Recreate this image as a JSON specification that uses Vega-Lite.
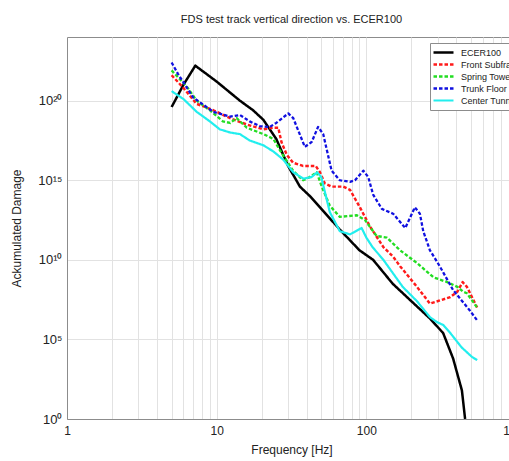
{
  "$schema": "https://vega.github.io/schema/vega-lite/v6.json",
  "autosize": {"type": "none"},
  "width": 449,
  "height": 382,
  "padding": {"left": 67, "top": 37, "right": 0, "bottom": 42},
  "background": "white",
  "title": {"text": "FDS test track vertical direction vs. ECER100", "fontSize": 11, "fontWeight": "normal", "color": "#222", "offset": 12, "font": "Liberation Sans"},
  "datasets": {
    "curves": [
      {"f": 5, "d": 3.98e19, "s": "ECER100"},
      {"f": 6, "d": 1e21, "s": "ECER100"},
      {"f": 7.2, "d": 1.58e22, "s": "ECER100"},
      {"f": 10, "d": 1.58e21, "s": "ECER100"},
      {"f": 14.3, "d": 1e20, "s": "ECER100"},
      {"f": 17.5, "d": 2.51e19, "s": "ECER100"},
      {"f": 20.5, "d": 6.31e18, "s": "ECER100"},
      {"f": 25, "d": 3.98e17, "s": "ECER100"},
      {"f": 30, "d": 7.94e15, "s": "ECER100"},
      {"f": 36, "d": 3.98e14, "s": "ECER100"},
      {"f": 42, "d": 1e14, "s": "ECER100"},
      {"f": 49, "d": 2e13, "s": "ECER100"},
      {"f": 66.5, "d": 7.94e11, "s": "ECER100"},
      {"f": 90, "d": 3.98e10, "s": "ECER100"},
      {"f": 111, "d": 1e10, "s": "ECER100"},
      {"f": 150, "d": 3.16e8, "s": "ECER100"},
      {"f": 200, "d": 2.51e7, "s": "ECER100"},
      {"f": 267, "d": 2e6, "s": "ECER100"},
      {"f": 326, "d": 2.51e5, "s": "ECER100"},
      {"f": 380, "d": 6.31e3, "s": "ECER100"},
      {"f": 435, "d": 63.1, "s": "ECER100"},
      {"f": 457, "d": 1, "s": "ECER100"},

      {"f": 5, "d": 3.98e21, "s": "Front Subframe"},
      {"f": 6, "d": 6.31e20, "s": "Front Subframe"},
      {"f": 7.35, "d": 6.31e19, "s": "Front Subframe"},
      {"f": 9.5, "d": 2.51e19, "s": "Front Subframe"},
      {"f": 12.3, "d": 7.94e18, "s": "Front Subframe"},
      {"f": 15.9, "d": 3.16e18, "s": "Front Subframe"},
      {"f": 20.5, "d": 1.58e18, "s": "Front Subframe"},
      {"f": 23.9, "d": 2e18, "s": "Front Subframe"},
      {"f": 25.8, "d": 2e18, "s": "Front Subframe"},
      {"f": 27.1, "d": 2.51e17, "s": "Front Subframe"},
      {"f": 29.4, "d": 3.98e16, "s": "Front Subframe"},
      {"f": 32.4, "d": 1.26e16, "s": "Front Subframe"},
      {"f": 37.7, "d": 7.94e15, "s": "Front Subframe"},
      {"f": 45.9, "d": 7.94e15, "s": "Front Subframe"},
      {"f": 49, "d": 3.16e15, "s": "Front Subframe"},
      {"f": 52.8, "d": 6.31e14, "s": "Front Subframe"},
      {"f": 58.5, "d": 3.98e14, "s": "Front Subframe"},
      {"f": 70, "d": 3.98e14, "s": "Front Subframe"},
      {"f": 77.8, "d": 2.51e14, "s": "Front Subframe"},
      {"f": 90.6, "d": 2e13, "s": "Front Subframe"},
      {"f": 105.7, "d": 1.26e12, "s": "Front Subframe"},
      {"f": 130, "d": 6.31e10, "s": "Front Subframe"},
      {"f": 151, "d": 1.58e10, "s": "Front Subframe"},
      {"f": 168, "d": 3.98e9, "s": "Front Subframe"},
      {"f": 218, "d": 2e8, "s": "Front Subframe"},
      {"f": 266, "d": 1.78e7, "s": "Front Subframe"},
      {"f": 311, "d": 2.82e7, "s": "Front Subframe"},
      {"f": 364, "d": 4.57e7, "s": "Front Subframe"},
      {"f": 406, "d": 1e8, "s": "Front Subframe"},
      {"f": 440, "d": 3.98e8, "s": "Front Subframe"},
      {"f": 470, "d": 2e8, "s": "Front Subframe"},
      {"f": 550, "d": 1e7, "s": "Front Subframe"},

      {"f": 5, "d": 7.94e21, "s": "Spring Tower"},
      {"f": 6.3, "d": 7.94e20, "s": "Spring Tower"},
      {"f": 7.35, "d": 1e20, "s": "Spring Tower"},
      {"f": 9, "d": 2.51e19, "s": "Spring Tower"},
      {"f": 11, "d": 5.01e18, "s": "Spring Tower"},
      {"f": 12.3, "d": 3.98e18, "s": "Spring Tower"},
      {"f": 13.6, "d": 7.94e18, "s": "Spring Tower"},
      {"f": 15.9, "d": 2e18, "s": "Spring Tower"},
      {"f": 20.5, "d": 7.94e17, "s": "Spring Tower"},
      {"f": 23.9, "d": 3.98e17, "s": "Spring Tower"},
      {"f": 26.4, "d": 7.94e16, "s": "Spring Tower"},
      {"f": 32.4, "d": 3.98e15, "s": "Spring Tower"},
      {"f": 37.8, "d": 1e15, "s": "Spring Tower"},
      {"f": 41.8, "d": 1.58e15, "s": "Spring Tower"},
      {"f": 46.6, "d": 3.16e15, "s": "Spring Tower"},
      {"f": 50.4, "d": 3.98e14, "s": "Spring Tower"},
      {"f": 57, "d": 2.51e13, "s": "Spring Tower"},
      {"f": 66.5, "d": 5.01e12, "s": "Spring Tower"},
      {"f": 86.5, "d": 6.31e12, "s": "Spring Tower"},
      {"f": 98, "d": 3.16e12, "s": "Spring Tower"},
      {"f": 117, "d": 3.16e11, "s": "Spring Tower"},
      {"f": 137, "d": 2.51e11, "s": "Spring Tower"},
      {"f": 168, "d": 3.98e10, "s": "Spring Tower"},
      {"f": 218, "d": 6.31e9, "s": "Spring Tower"},
      {"f": 281, "d": 7.94e8, "s": "Spring Tower"},
      {"f": 347, "d": 3.98e8, "s": "Spring Tower"},
      {"f": 406, "d": 2e8, "s": "Spring Tower"},
      {"f": 443, "d": 1e8, "s": "Spring Tower"},
      {"f": 470, "d": 7.94e7, "s": "Spring Tower"},
      {"f": 550, "d": 1e7, "s": "Spring Tower"},

      {"f": 5, "d": 2.51e22, "s": "Trunk Floor"},
      {"f": 5.5, "d": 5.01e21, "s": "Trunk Floor"},
      {"f": 6.97, "d": 1.58e20, "s": "Trunk Floor"},
      {"f": 9.48, "d": 2e19, "s": "Trunk Floor"},
      {"f": 12.3, "d": 1e19, "s": "Trunk Floor"},
      {"f": 14.3, "d": 1.26e19, "s": "Trunk Floor"},
      {"f": 16.6, "d": 5.01e18, "s": "Trunk Floor"},
      {"f": 19.4, "d": 2.51e18, "s": "Trunk Floor"},
      {"f": 22.6, "d": 2.24e18, "s": "Trunk Floor"},
      {"f": 25, "d": 3.98e18, "s": "Trunk Floor"},
      {"f": 30.1, "d": 1.58e19, "s": "Trunk Floor"},
      {"f": 32.5, "d": 7.94e18, "s": "Trunk Floor"},
      {"f": 38.8, "d": 1.26e17, "s": "Trunk Floor"},
      {"f": 43.1, "d": 2.51e17, "s": "Trunk Floor"},
      {"f": 47.6, "d": 2.24e18, "s": "Trunk Floor"},
      {"f": 51.5, "d": 7.94e17, "s": "Trunk Floor"},
      {"f": 58.6, "d": 3.98e15, "s": "Trunk Floor"},
      {"f": 66.5, "d": 1e15, "s": "Trunk Floor"},
      {"f": 77.8, "d": 7.94e14, "s": "Trunk Floor"},
      {"f": 84, "d": 1e15, "s": "Trunk Floor"},
      {"f": 95.5, "d": 3.98e15, "s": "Trunk Floor"},
      {"f": 103, "d": 1.58e15, "s": "Trunk Floor"},
      {"f": 111, "d": 1.26e14, "s": "Trunk Floor"},
      {"f": 127, "d": 1.58e13, "s": "Trunk Floor"},
      {"f": 151, "d": 7.94e12, "s": "Trunk Floor"},
      {"f": 182, "d": 1e12, "s": "Trunk Floor"},
      {"f": 211, "d": 2e13, "s": "Trunk Floor"},
      {"f": 228, "d": 7.94e12, "s": "Trunk Floor"},
      {"f": 240, "d": 6.31e11, "s": "Trunk Floor"},
      {"f": 266, "d": 3.98e10, "s": "Trunk Floor"},
      {"f": 296, "d": 7.94e9, "s": "Trunk Floor"},
      {"f": 327, "d": 1.58e9, "s": "Trunk Floor"},
      {"f": 380, "d": 1.26e8, "s": "Trunk Floor"},
      {"f": 433, "d": 2.82e7, "s": "Trunk Floor"},
      {"f": 493, "d": 6.31e6, "s": "Trunk Floor"},
      {"f": 550, "d": 1.58e6, "s": "Trunk Floor"},

      {"f": 5, "d": 3.98e20, "s": "Center Tunnel"},
      {"f": 6, "d": 1.26e20, "s": "Center Tunnel"},
      {"f": 7.35, "d": 2e19, "s": "Center Tunnel"},
      {"f": 9, "d": 5.01e18, "s": "Center Tunnel"},
      {"f": 10.5, "d": 1.58e18, "s": "Center Tunnel"},
      {"f": 12.3, "d": 1e18, "s": "Center Tunnel"},
      {"f": 14.3, "d": 7.94e17, "s": "Center Tunnel"},
      {"f": 16.6, "d": 3.16e17, "s": "Center Tunnel"},
      {"f": 20.5, "d": 1.58e17, "s": "Center Tunnel"},
      {"f": 24, "d": 6.31e16, "s": "Center Tunnel"},
      {"f": 27.8, "d": 2e16, "s": "Center Tunnel"},
      {"f": 32.5, "d": 3.16e15, "s": "Center Tunnel"},
      {"f": 38, "d": 1.26e15, "s": "Center Tunnel"},
      {"f": 43, "d": 1.58e15, "s": "Center Tunnel"},
      {"f": 47, "d": 3.16e15, "s": "Center Tunnel"},
      {"f": 50, "d": 1.58e15, "s": "Center Tunnel"},
      {"f": 57, "d": 1e13, "s": "Center Tunnel"},
      {"f": 66.5, "d": 6.31e11, "s": "Center Tunnel"},
      {"f": 77.8, "d": 3.98e11, "s": "Center Tunnel"},
      {"f": 93, "d": 1e12, "s": "Center Tunnel"},
      {"f": 100, "d": 2.51e11, "s": "Center Tunnel"},
      {"f": 110, "d": 6.31e10, "s": "Center Tunnel"},
      {"f": 130, "d": 1e10, "s": "Center Tunnel"},
      {"f": 175, "d": 2e8, "s": "Center Tunnel"},
      {"f": 218, "d": 2.51e7, "s": "Center Tunnel"},
      {"f": 266, "d": 2.51e6, "s": "Center Tunnel"},
      {"f": 295, "d": 1.26e6, "s": "Center Tunnel"},
      {"f": 327, "d": 7.94e5, "s": "Center Tunnel"},
      {"f": 364, "d": 2.51e5, "s": "Center Tunnel"},
      {"f": 433, "d": 3.16e4, "s": "Center Tunnel"},
      {"f": 508, "d": 7.94e3, "s": "Center Tunnel"},
      {"f": 550, "d": 5.01e3, "s": "Center Tunnel"}
    ]
  },
  "data": {"name": "curves"},
  "mark": {"type": "line", "clip": true, "strokeCap": "butt", "strokeJoin": "round"},
  "encoding": {
    "x": {
      "field": "f", "type": "quantitative",
      "scale": {"type": "log", "domain": [1, 1000], "nice": false},
      "axis": {
        "title": "Frequency [Hz]", "titleFontSize": 12, "titleFontWeight": "normal", "titleColor": "#222", "titlePadding": 8,
        "values": [1,2,3,4,5,6,7,8,9,10,20,30,40,50,60,70,80,90,100,200,300,400,500,600,700,800,900,1000],
        "labelExpr": "datum.value == 1 || datum.value == 10 || datum.value == 100 || datum.value == 1000 ? datum.value : ''",
        "labelFontSize": 12, "labelColor": "#222", "labelPadding": 6, "labelFlush": false,
        "ticks": false, "grid": true, "gridColor": "#e2e2e2", "gridWidth": 1,
        "domainColor": "#8c8c8c"
      }
    },
    "y": {
      "field": "d", "type": "quantitative",
      "scale": {"type": "log", "domain": [1, 1e24], "nice": false},
      "axis": {
        "title": "Ackumulated Damage", "titleFontSize": 12, "titleFontWeight": "normal", "titleColor": "#222", "titlePadding": 14,
        "values": [1, 1e5, 1e10, 1e15, 1e20],
        "labelExpr": "'10' + (round(log(datum.value)/LN10) >= 10 ? ['⁰','¹','²','³','⁴','⁵','⁶','⁷','⁸','⁹'][floor(round(log(datum.value)/LN10)/10)] : '') + ['⁰','¹','²','³','⁴','⁵','⁶','⁷','⁸','⁹'][round(log(datum.value)/LN10) % 10]",
        "labelFontSize": 13, "labelColor": "#222", "labelPadding": 5,
        "ticks": false, "grid": true, "gridColor": "#e2e2e2", "gridWidth": 1,
        "domainColor": "#8c8c8c"
      }
    },
    "color": {
      "field": "s", "type": "nominal",
      "scale": {"domain": ["ECER100", "Front Subframe", "Spring Tower", "Trunk Floor", "Center Tunnel"],
                "range": ["#000000", "#ff1a1a", "#22dd22", "#1010e0", "#22eeee"]},
      "legend": {
        "title": null, "orient": "none", "legendX": 363, "legendY": 6,
        "symbolType": "M-1.5,0L3.5,0", "symbolSize": 64, "symbolStrokeWidth": 2.2,
        "labelFontSize": 9, "labelColor": "#222", "labelOffset": 16, "labelLimit": 200,
        "rowPadding": 1, "padding": 4,
        "strokeColor": "#8c8c8c", "fillColor": "white"
      }
    },
    "strokeDash": {
      "field": "s", "type": "nominal",
      "scale": {"domain": ["ECER100", "Front Subframe", "Spring Tower", "Trunk Floor", "Center Tunnel"],
                "range": [[1, 0], [3.5, 2], [3.5, 2], [3.5, 2], [1, 0]]},
      "legend": {
        "title": null, "orient": "none", "legendX": 363, "legendY": 6,
        "symbolType": "M-1.5,0L3.5,0", "symbolSize": 64, "symbolStrokeWidth": 2.2,
        "labelFontSize": 9, "labelColor": "#222", "labelOffset": 16, "labelLimit": 200,
        "rowPadding": 1, "padding": 4,
        "strokeColor": "#8c8c8c", "fillColor": "white"
      }
    },
    "strokeWidth": {
      "field": "s", "type": "nominal",
      "scale": {"domain": ["ECER100", "Front Subframe", "Spring Tower", "Trunk Floor", "Center Tunnel"],
                "range": [2.5, 2.2, 2.2, 2.8, 2.6]},
      "legend": null
    }
  },
  "config": {
    "font": "Liberation Sans",
    "view": {"stroke": "#8c8c8c", "strokeWidth": 1}
  }
}
